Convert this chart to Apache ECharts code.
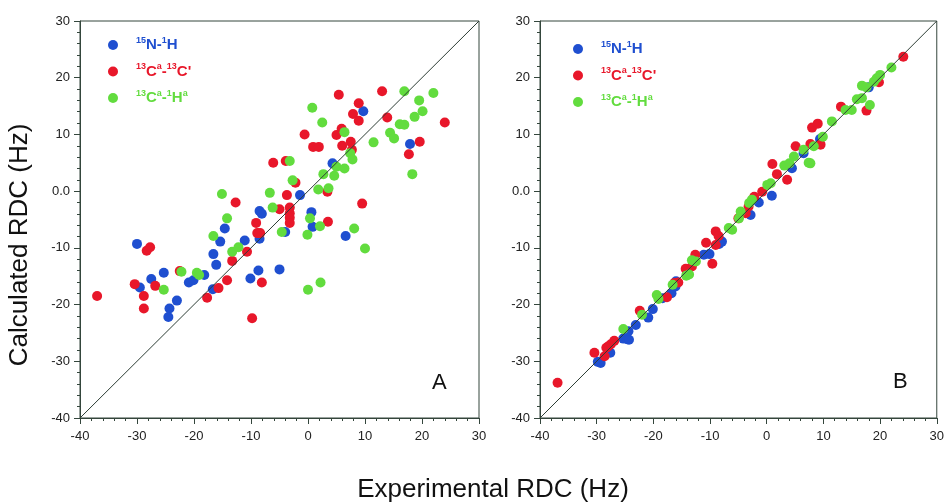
<!DOCTYPE html>
<html>
<head>
<meta charset="utf-8">
<script src="https://cdn.jsdelivr.net/npm/echarts@6/dist/echarts.min.js"></script>
<style>
html,body{margin:0;padding:0;background:#fff;}
#chart{width:947px;height:504px;}
</style>
</head>
<body>
<div id="chart"></div>
<script>
// ---- Data: [experimental, calculated] in Hz ----
// Panel A
const nhA = [[9.7,14.1],[17.9,8.3],[4.3,4.9],[-1.4,-0.7],[0.6,-3.7],[0.8,-6.3],[-8.5,-3.5],[-8.1,-4.0],[-14.6,-6.6],[-15.4,-8.9],[-11.1,-8.7],[-8.5,-8.4],[-4.0,-7.2],[6.6,-7.9],[-30.0,-9.3],[-16.6,-11.1],[-16.1,-13.0],[-18.2,-14.8],[-25.3,-14.4],[-27.5,-15.5],[-29.5,-17.0],[-20.9,-16.1],[-20.1,-15.7],[-16.7,-17.3],[-23.0,-19.3],[-24.3,-20.7],[-24.5,-22.2],[-10.1,-15.4],[-8.7,-14.0],[-5.0,-13.8]];
const ccA = [[13.0,17.6],[5.4,17.0],[8.9,15.5],[7.9,13.6],[8.9,12.4],[13.9,13.0],[24.0,12.1],[5.9,11.0],[5.0,9.9],[-0.6,10.0],[0.9,7.8],[1.9,7.8],[6.0,8.0],[7.5,8.7],[7.7,7.3],[19.6,8.7],[17.7,6.5],[-6.1,5.0],[-3.9,5.3],[-2.2,1.5],[-3.7,-0.7],[3.4,-0.1],[-12.7,-2.0],[-5.0,-3.2],[-3.2,-2.9],[-3.2,-3.9],[-3.2,-4.7],[-3.2,-5.6],[-9.1,-5.6],[-8.9,-7.4],[-8.4,-7.4],[3.5,-5.4],[9.5,-2.2],[-37.0,-18.5],[-30.4,-16.4],[-28.3,-10.5],[-27.7,-9.9],[-26.8,-16.7],[-28.8,-18.5],[-28.8,-20.7],[-22.5,-14.1],[-17.7,-18.8],[-15.7,-17.1],[-14.2,-15.7],[-13.3,-12.3],[-10.7,-10.7],[-9.8,-22.4],[-8.1,-16.1]];
const chA = [[16.9,17.6],[22.0,17.3],[19.5,16.0],[20.1,14.1],[18.7,13.1],[16.1,11.8],[16.9,11.7],[14.4,10.3],[15.1,9.3],[11.5,8.6],[18.3,3.0],[0.75,14.7],[2.5,12.1],[6.4,10.4],[7.4,6.7],[7.8,5.6],[5.0,4.3],[6.4,4.0],[2.7,3.0],[4.6,2.7],[-3.2,5.3],[-2.7,1.9],[1.8,0.3],[3.6,0.5],[-6.7,-0.3],[-15.1,-0.5],[-6.2,-2.9],[-14.2,-4.8],[0.35,-4.8],[2.1,-6.2],[-4.6,-7.2],[-0.1,-7.7],[8.1,-6.6],[-16.6,-7.9],[10.0,-10.1],[-22.2,-14.2],[-25.3,-17.4],[-19.5,-14.4],[-19.1,-14.8],[-13.3,-10.7],[-12.2,-9.9],[0.0,-17.4],[2.2,-16.1]];
// Panel B
const nhB = [[-29.8,-30.1],[-29.3,-30.3],[-27.6,-28.5],[-25.3,-26.0],[-24.6,-26.1],[-24.3,-26.2],[-24.4,-24.7],[-23.1,-23.6],[-20.9,-22.3],[-20.1,-20.8],[-18.4,-18.9],[-16.8,-18.0],[-16.0,-15.9],[-16.1,-16.8],[-11.1,-11.2],[-10.1,-11.1],[-8.4,-9.3],[-7.9,-8.9],[-2.85,-4.2],[-1.4,-2.0],[0.9,-0.8],[4.45,4.05],[6.5,6.7],[9.4,9.2],[18.0,18.3]];
const ccB = [[-36.9,-33.8],[-30.4,-28.5],[-28.6,-29.1],[-28.3,-27.6],[-28.0,-27.4],[-27.5,-27.0],[-26.9,-26.4],[-22.4,-21.1],[-17.6,-18.7],[-15.6,-16.1],[-16.3,-16.2],[-14.3,-13.7],[-13.2,-13.3],[-12.6,-11.2],[-9.6,-12.8],[-10.7,-9.1],[-9.0,-9.5],[-9.0,-7.1],[-8.5,-7.9],[-5.0,-4.8],[-3.7,-3.9],[-3.2,-2.7],[-2.2,-1.0],[-0.8,-0.1],[1.0,4.8],[1.8,3.0],[3.6,2.0],[5.1,7.9],[7.7,8.3],[9.5,8.2],[8.0,11.2],[9.0,11.9],[13.1,14.9],[17.6,14.2],[19.8,19.2],[24.1,23.7]];
const chB = [[-25.3,-24.3],[-22.0,-21.8],[-19.4,-18.3],[-19.1,-19.0],[-16.6,-16.5],[-14.2,-14.9],[-13.7,-14.7],[-13.2,-12.2],[-12.5,-12.4],[-6.7,-6.5],[-6.1,-6.8],[-4.9,-4.8],[-4.6,-3.6],[-2.6,-1.5],[-3.1,-2.1],[0.1,1.1],[0.7,1.4],[3.1,4.5],[4.0,4.9],[4.8,6.1],[6.5,7.3],[7.7,4.9],[7.4,5.0],[8.3,7.9],[9.9,9.6],[11.5,12.3],[13.9,14.3],[15.0,14.3],[15.9,16.2],[16.8,16.4],[16.8,18.6],[17.6,18.3],[18.2,15.2],[18.9,19.3],[19.4,19.9],[20.0,20.5],[22.0,21.8]];
// identity (y = x) line end values
const identity = [-40, 30];
const seriesNames = ['NH', 'CaC', 'CaHa'];
const panelLabels = ['A', 'B'];
const axisTitleX = 'Experimental RDC (Hz)';
const axisTitleY = 'Calculated RDC (Hz)';

// ---- Styling ----
const colors = {NH: '#1f4fd0', CaC: '#e8172a', CaHa: '#62dc3e'};
const axisColor = '#34463c';
const font = 'Liberation Sans, Arial, sans-serif';

const legendRich = {
  bs: {color: colors.NH, fontSize: 9, fontWeight: 'bold', fontFamily: font, lineHeight: 18, verticalAlign: 'top'},
  bm: {color: colors.NH, fontSize: 15, fontWeight: 'bold', fontFamily: font, lineHeight: 18},
  rs: {color: colors.CaC, fontSize: 9, fontWeight: 'bold', fontFamily: font, lineHeight: 18, verticalAlign: 'top'},
  rm: {color: colors.CaC, fontSize: 15, fontWeight: 'bold', fontFamily: font, lineHeight: 18},
  gs: {color: colors.CaHa, fontSize: 9, fontWeight: 'bold', fontFamily: font, lineHeight: 18, verticalAlign: 'top'},
  gm: {color: colors.CaHa, fontSize: 15, fontWeight: 'bold', fontFamily: font, lineHeight: 18}
};
const legendText = {
  NH: '{bs|15}{bm|N-}{bs|1}{bm|H}',
  CaC: '{rs|13}{rm|C}{rs|a}{rm|-}{rs|13}{rm|C\'}',
  CaHa: '{gs|13}{gm|C}{gs|a}{gm|-}{gs|1}{gm|H}{gs|a}'
};

function makeAxis(gridIndex, isY) {
  return {
    type: 'value', gridIndex: gridIndex, min: -40, max: 30, interval: 10,
    axisLine: {show: true, onZero: false, lineStyle: {color: axisColor, width: 1}},
    axisTick: {show: true, inside: false, length: 6, lineStyle: {color: axisColor}},
    minorTick: {show: true, splitNumber: 5, length: 3, lineStyle: {color: axisColor}},
    splitLine: {show: false},
    axisLabel: {
      color: '#222', fontSize: 13, fontFamily: font, margin: isY ? 10 : 12,
      formatter: function (v) { return (isY && v === 0) ? '0.0' : String(v); }
    }
  };
}

const grids = [
  {left: 80, top: 21, width: 399, height: 397, show: true, borderColor: axisColor, borderWidth: 1},
  {left: 540, top: 21, width: 398, height: 397, show: true, borderColor: axisColor, borderWidth: 1}
];

function scatter(name, data, idx) {
  return {
    name: name, type: 'scatter', xAxisIndex: idx, yAxisIndex: idx,
    data: data, symbol: 'circle', symbolSize: 10,
    itemStyle: {color: colors[name], opacity: 1},
    z: 3
  };
}
function diag(idx) {
  return {
    type: 'line', xAxisIndex: idx, yAxisIndex: idx,
    data: [[identity[0], identity[0]], [identity[1], identity[1]]],
    symbol: 'none', silent: true, z: 4,
    lineStyle: {color: '#2d3d35', width: 1}
  };
}

function makeLegend(left, top) {
  return {
    orient: 'vertical', left: left, top: top,
    data: seriesNames, icon: 'circle', itemWidth: 36, itemHeight: 10, itemGap: 10,
    formatter: function (n) { return legendText[n]; },
    textStyle: {rich: legendRich, padding: 0}
  };
}

const option = {
  backgroundColor: '#fff',
  animation: false,
  grid: grids,
  xAxis: [makeAxis(0, false), makeAxis(1, false)],
  yAxis: [makeAxis(0, true), makeAxis(1, true)],
  legend: [makeLegend(103, 31), makeLegend(568, 35)],
  series: [
    scatter('NH', nhA, 0), scatter('CaC', ccA, 0), scatter('CaHa', chA, 0), diag(0),
    scatter('NH', nhB, 1), scatter('CaC', ccB, 1), scatter('CaHa', chB, 1), diag(1)
  ],
  graphic: [
    {type: 'text', left: 432, top: 372, style: {text: panelLabels[0], font: '22px ' + font, fill: '#111'}},
    {type: 'text', left: 893, top: 371, style: {text: panelLabels[1], font: '22px ' + font, fill: '#111'}},
    {type: 'text', x: 493, y: 490, style: {text: axisTitleX, font: '26px ' + font, fill: '#111', align: 'center', verticalAlign: 'middle'}},
    {type: 'text', x: 20, y: 245, rotation: Math.PI / 2, style: {text: axisTitleY, font: '26px ' + font, fill: '#111', align: 'center', verticalAlign: 'middle'}}
  ]
};

const chart = echarts.init(document.getElementById('chart'), null, {renderer: 'canvas'});
chart.setOption(option);
</script>
</body>
</html>
